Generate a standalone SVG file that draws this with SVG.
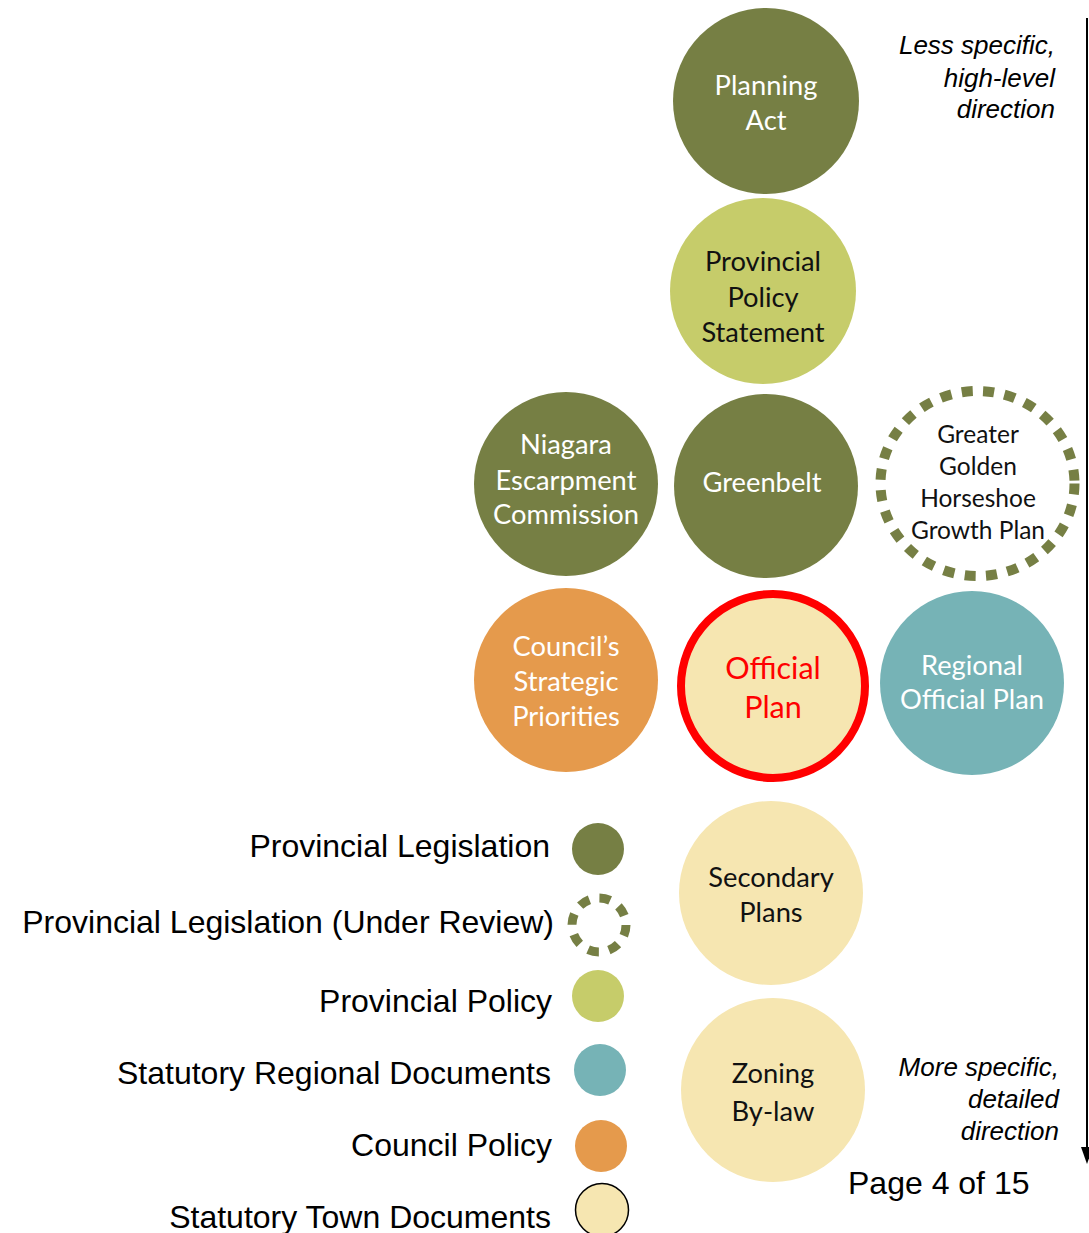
<svg xmlns="http://www.w3.org/2000/svg" width="1089" height="1233" viewBox="0 0 1089 1233">
<style>
.olive{fill:#767F44}
.lgreen{fill:#C6CC6A}
.orange{fill:#E59A4C}
.teal{fill:#76B3B6}
.cream{fill:#F6E6B1}
.dash{fill:none;stroke:#767F44;stroke-width:10;stroke-dasharray:11 10.5}
.ct{font-family:Lato,"Liberation Sans",sans-serif;font-size:27.3px;text-anchor:middle;dominant-baseline:central}
.g{font-size:24.5px}
.w{fill:#FFFFFF}
.k{fill:#111111}
.lg{font-family:"Liberation Sans",Arial,sans-serif;font-size:32px;fill:#000;text-anchor:end;dominant-baseline:central}
.it{font-family:"Liberation Sans",Arial,sans-serif;font-size:26px;font-style:italic;fill:#000;text-anchor:end;dominant-baseline:central}
</style>
<rect width="1089" height="1233" fill="#FFFFFF"/>
<g id="connectors">
<line x1="1087" y1="18" x2="1087" y2="1148" stroke="#000" stroke-width="2"/>
<path d="M1081,1147 L1093,1147 L1087,1164 Z" fill="#000"/>
</g>
<g id="planning-act">
<circle cx="766" cy="101" r="93" class="olive"/>
<text class="ct w" x="766" y="84">Planning</text>
<text class="ct w" x="766" y="119">Act</text>
</g>
<g id="pps">
<circle cx="763" cy="291" r="93" class="lgreen"/>
<text class="ct k" x="763" y="260">Provincial</text>
<text class="ct k" x="763" y="296">Policy</text>
<text class="ct k" x="763" y="331">Statement</text>
</g>
<g id="nec">
<circle cx="566" cy="484" r="92" class="olive"/>
<text class="ct w" x="566" y="443">Niagara</text>
<text class="ct w" x="566" y="479">Escarpment</text>
<text class="ct w" x="566" y="513">Commission</text>
</g>
<g id="greenbelt">
<circle cx="766" cy="486" r="92" class="olive"/>
<text class="ct w" x="762" y="481">Greenbelt</text>
</g>
<g id="ggh">
<ellipse cx="977.5" cy="483.5" rx="97" ry="92.5" class="dash"/>
<text class="ct k g" x="978" y="433">Greater</text>
<text class="ct k g" x="978" y="465">Golden</text>
<text class="ct k g" x="978" y="497">Horseshoe</text>
<text class="ct k g" x="978" y="529">Growth Plan</text>
</g>
<g id="council">
<circle cx="566" cy="680" r="92" class="orange"/>
<text class="ct w" x="566" y="645">Council’s</text>
<text class="ct w" x="566" y="680">Strategic</text>
<text class="ct w" x="566" y="715">Priorities</text>
</g>
<g id="official-plan">
<circle cx="773" cy="686" r="92" class="cream" stroke="#FF0000" stroke-width="8"/>
<text class="ct" x="773" y="667" fill="#FF0000" style="font-size:30.5px">Official</text>
<text class="ct" x="773" y="706" fill="#FF0000" style="font-size:30.5px">Plan</text>
</g>
<g id="regional-op">
<circle cx="972" cy="683" r="92" class="teal"/>
<text class="ct w" x="972" y="664">Regional</text>
<text class="ct w" x="972" y="698">Official Plan</text>
</g>
<g id="secondary">
<circle cx="771" cy="893" r="92" class="cream"/>
<text class="ct k" x="771" y="876">Secondary</text>
<text class="ct k" x="771" y="911">Plans</text>
</g>
<g id="zoning">
<circle cx="773" cy="1090" r="92" class="cream"/>
<text class="ct k" x="773" y="1072">Zoning</text>
<text class="ct k" x="773" y="1110">By-law</text>
</g>
<g id="notes">
<text class="it" x="1055" y="45">Less specific,</text>
<text class="it" x="1055" y="78">high-level</text>
<text class="it" x="1055" y="109">direction</text>
<text class="it" x="1059" y="1067">More specific,</text>
<text class="it" x="1059" y="1099">detailed</text>
<text class="it" x="1059" y="1131">direction</text>
<text x="848" y="1183" style="font-family:'Liberation Sans',Arial,sans-serif;font-size:32px;dominant-baseline:central" fill="#000">Page 4 of 15</text>
</g>
<g id="legend">
<text class="lg" x="550" y="846">Provincial Legislation</text>
<circle cx="598" cy="849" r="26" class="olive"/>
<text class="lg" x="554" y="922">Provincial Legislation (Under Review)</text>
<circle cx="599" cy="925" r="27" class="dash" style="stroke-width:9;stroke-dasharray:11 10.2"/>
<text class="lg" x="552" y="1001">Provincial Policy</text>
<circle cx="598" cy="996" r="26" class="lgreen"/>
<text class="lg" x="551" y="1073">Statutory Regional Documents</text>
<circle cx="600" cy="1070" r="26" class="teal"/>
<text class="lg" x="552" y="1145">Council Policy</text>
<circle cx="601" cy="1146" r="26" class="orange"/>
<text class="lg" x="551" y="1217">Statutory Town Documents</text>
<circle cx="602" cy="1210" r="26.5" class="cream" stroke="#000" stroke-width="1.5"/>
</g>
</svg>
